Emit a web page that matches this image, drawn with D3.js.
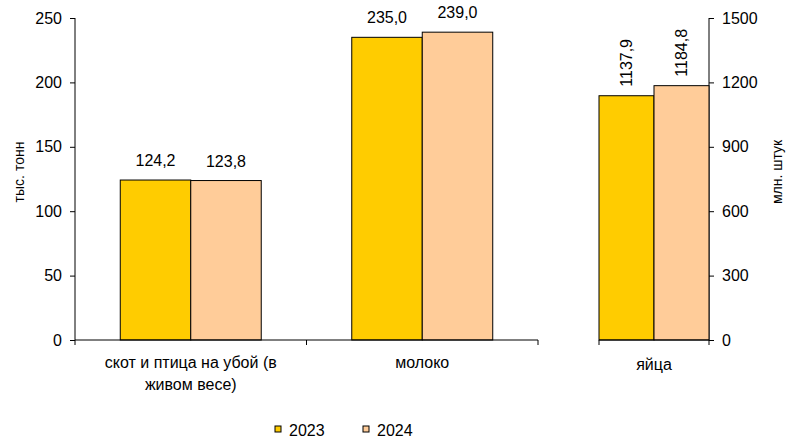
<!DOCTYPE html>
<html>
<head>
<meta charset="utf-8">
<script src="https://cdn.jsdelivr.net/npm/d3@7"></script>
<style>
  body { margin: 0; background: #fff; }
  svg { display: block; font-family: "Liberation Sans", Arial, sans-serif; }
  .tick text { font-size: 16px; fill: #000; }
  .tick line, .domain { stroke: #000; }
</style>
</head>
<body>
<svg id="chart"></svg>
<script>
// ****** Data ******
var years = ["2023", "2024"];
var colors = ["#FFCC00", "#FFCC99"];

var leftCategories = [["скот и птица на убой (в", "живом весе)"], ["молоко"]];
var leftValues = [[124.2, 123.8], [235.0, 239.0]];
var leftTicks = [0, 50, 100, 150, 200, 250];

var rightCategory = ["яйца"];
var rightValues = [1137.9, 1184.8];
var rightTicks = [0, 300, 600, 900, 1200, 1500];

var leftTitle = "тыс. тонн";
var rightTitle = "млн. штук";

// ****** Set up ******
var width = 786;
var height = 438;
var fmt = d => d3.format(".1f")(d).replace(".", ",");

var svg = d3.select("#chart")
  .attr("width", width)
  .attr("height", height);

var yLeft = d3.scaleLinear()
  .domain([0, 250])
  .range([340, 18]);

var yRight = d3.scaleLinear()
  .domain([0, 1500])
  .range([340, 18]);

var xLeft = d3.scaleBand()
  .domain(leftCategories.map((d, i) => i))
  .range([75, 538])
  .paddingInner(0.391)
  .paddingOuter(0.1955);

var xLeftInner = d3.scaleBand()
  .domain(years)
  .range([0, xLeft.bandwidth()]);

var xRight = d3.scaleBand()
  .domain(rightCategory)
  .range([599, 709]);

var xRightInner = d3.scaleBand()
  .domain(years)
  .range([0, xRight.bandwidth()]);

// ****** Axes ******
svg.append("g")
  .attr("transform", "translate(75,0)")
  .call(d3.axisLeft(yLeft).tickValues(leftTicks).tickSize(5).tickSizeOuter(0).tickPadding(8))
  .call(g => g.selectAll(".domain").attr("d", "M0,18V340"));

svg.append("g")
  .attr("transform", "translate(709,0)")
  .call(d3.axisRight(yRight).tickValues(rightTicks).tickFormat(d3.format("d"))
          .tickSize(5).tickSizeOuter(0).tickPadding(8))
  .call(g => g.selectAll(".domain").attr("d", "M0,18V340"));

svg.append("text")
  .attr("transform", "translate(24,172) rotate(-90)")
  .attr("text-anchor", "middle")
  .style("font-size", "14px")
  .text(leftTitle);

svg.append("text")
  .attr("transform", "translate(782,172) rotate(-90)")
  .attr("text-anchor", "middle")
  .style("font-size", "14px")
  .text(rightTitle);

// ****** Bars: left panel ******
var leftGroups = svg.selectAll(".left-group")
  .data(leftValues)
  .enter()
  .append("g")
    .classed("left-group", true)
    .attr("transform", (d, i) => "translate(" + xLeft(i) + ",0)");

leftGroups.selectAll("rect")
  .data(d => d.map((v, j) => ({year: years[j], value: v})))
  .enter()
  .append("rect")
    .attr("x", d => xLeftInner(d.year))
    .attr("y", d => yLeft(d.value))
    .attr("width", xLeftInner.bandwidth())
    .attr("height", d => yLeft(0) - yLeft(d.value))
    .attr("fill", (d, j) => colors[j])
    .attr("stroke", "#000")
    .attr("stroke-width", 1);

leftGroups.selectAll(".val")
  .data(d => d.map((v, j) => ({year: years[j], value: v})))
  .enter()
  .append("text")
    .classed("val", true)
    .attr("x", d => xLeftInner(d.year) + xLeftInner.bandwidth() / 2)
    .attr("y", d => yLeft(d.value) - 14)
    .attr("text-anchor", "middle")
    .style("font-size", "16px")
    .text(d => fmt(d.value));

// ****** Bars: eggs panel ******
var rightGroup = svg.append("g")
  .attr("transform", "translate(" + xRight(rightCategory[0]) + ",0)");

rightGroup.selectAll("rect")
  .data(rightValues.map((v, j) => ({year: years[j], value: v})))
  .enter()
  .append("rect")
    .attr("x", d => xRightInner(d.year))
    .attr("y", d => yRight(d.value))
    .attr("width", xRightInner.bandwidth())
    .attr("height", d => yRight(0) - yRight(d.value))
    .attr("fill", (d, j) => colors[j])
    .attr("stroke", "#000")
    .attr("stroke-width", 1);

rightGroup.selectAll(".val")
  .data(rightValues.map((v, j) => ({year: years[j], value: v})))
  .enter()
  .append("text")
    .classed("val", true)
    .attr("transform", d => "translate(" + (xRightInner(d.year) + xRightInner.bandwidth() / 2) + "," + (yRight(d.value) - 9) + ") rotate(-90)")
    .attr("dy", "0.35em")
    .style("font-size", "16px")
    .text(d => fmt(d.value));

// ****** Category axes ******
svg.append("path")
  .attr("d", "M75,340H538M75,340V345M" + (xLeft(1) - xLeft.step() * xLeft.paddingInner() / 2) + ",340V345M538,340V345")
  .attr("stroke", "#000")
  .attr("fill", "none");

svg.append("path")
  .attr("d", "M599,340H709M599,340V345M709,340V345")
  .attr("stroke", "#000")
  .attr("fill", "none");

leftCategories.forEach(function(lines, i) {
  var t = svg.append("text")
    .attr("x", xLeft(i) + xLeft.bandwidth() / 2)
    .attr("y", 368)
    .attr("text-anchor", "middle")
    .style("font-size", "16px");
  lines.forEach(function(line, k) {
    t.append("tspan")
      .attr("x", xLeft(i) + xLeft.bandwidth() / 2)
      .attr("dy", k === 0 ? 0 : 22)
      .text(line);
  });
});

svg.append("text")
  .attr("x", xRight(rightCategory[0]) + xRight.bandwidth() / 2)
  .attr("y", 370)
  .attr("text-anchor", "middle")
  .style("font-size", "16px")
  .text(rightCategory[0]);

// ****** Legend ******
var legendX = [275, 363];
var legend = svg.selectAll(".legend")
  .data(years)
  .enter()
  .append("g")
    .classed("legend", true)
    .attr("transform", (d, i) => "translate(" + legendX[i] + ",426)");

legend.append("rect")
  .attr("width", 6)
  .attr("height", 6)
  .attr("fill", (d, i) => colors[i])
  .attr("stroke", "#000");

legend.append("text")
  .attr("x", 14)
  .attr("y", 10)
  .style("font-size", "16px")
  .text(d => d);
</script>
</body>
</html>
